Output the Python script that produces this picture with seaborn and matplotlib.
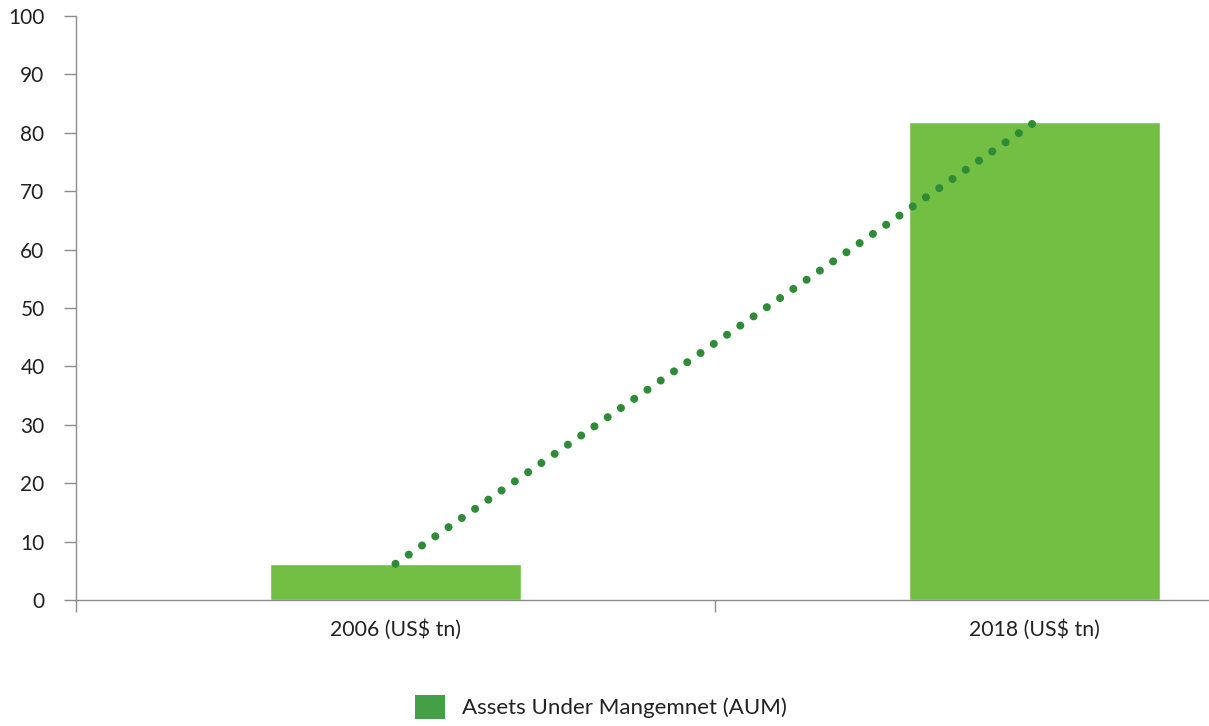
import numpy as np
import pandas as pd
import matplotlib
matplotlib.use("Agg")
import matplotlib.pyplot as plt
from matplotlib.patches import Patch
import seaborn as sns

# Data
categories = ["2006 (US$ tn)", "2018 (US$ tn)"]
aum_values = [6.2, 81.8]
legend_label = "Assets Under Mangemnet (AUM)"
y_ticks = [0, 10, 20, 30, 40, 50, 60, 70, 80, 90, 100]

BAR_COLOR = "#72bf44"
LEGEND_COLOR = "#43a047"
DOT_COLOR = "#2e8b37"
AXIS_COLOR = "#8c8c8c"
TEXT_COLOR = "#222222"

sns.set_theme(style="white")
plt.rcParams["font.family"] = ["Lato", "DejaVu Sans"]

df = pd.DataFrame({"category": categories, "aum": aum_values})

fig = plt.figure(figsize=(12.09, 7.26), dpi=100)
ax = fig.add_axes([76 / 1209, 1 - 600 / 726, 1 - 76 / 1209, (600 - 16) / 726])

sns.barplot(data=df, x="category", y="aum", color=BAR_COLOR, width=0.394,
            saturation=1, ax=ax, zorder=2)

# dotted trend line between bar tops
xpos = np.arange(len(categories))
ax.plot(xpos, aum_values, color=DOT_COLOR, linewidth=5.8,
        linestyle=(0, (0.001, 2.0)), dash_capstyle="round", zorder=3)

ax.set_yticks(y_ticks)
ax.set_yticklabels([str(t) for t in y_ticks])
ax.set_xlabel("")
ax.set_ylabel("")

# category boundary ticks
ax.set_xticks(np.arange(len(categories) + 1) - 0.5, minor=True)
ax.set_xlim(-0.5, -0.5 + 1133 / 639)
ax.set_ylim(0, 100)
ax.tick_params(axis="x", which="minor", length=8.6, width=1, color=AXIS_COLOR,
               direction="out", bottom=True)
ax.tick_params(axis="x", which="major", length=0, pad=14, labelsize=15.3,
               labelcolor=TEXT_COLOR, bottom=True)
ax.tick_params(axis="y", which="major", length=8.6, width=1, color=AXIS_COLOR, direction="out",
               pad=14, labelsize=15, labelcolor=TEXT_COLOR, left=True)

for side in ["top", "right"]:
    ax.spines[side].set_visible(False)
for side in ["left", "bottom"]:
    ax.spines[side].set_visible(True)
    ax.spines[side].set_color(AXIS_COLOR)
    ax.spines[side].set_linewidth(1)
ax.grid(False)

handle = Patch(facecolor=LEGEND_COLOR, edgecolor="none", label=legend_label)
fig.legend(handles=[handle], loc="center left", bbox_to_anchor=(415 / 1209, 1 - 707 / 726),
           frameon=False, fontsize=16, handlelength=1.35, handleheight=1.35,
           handletextpad=0.75, borderpad=0, borderaxespad=0, labelcolor=TEXT_COLOR)

fig.savefig("out.png", dpi=100)
